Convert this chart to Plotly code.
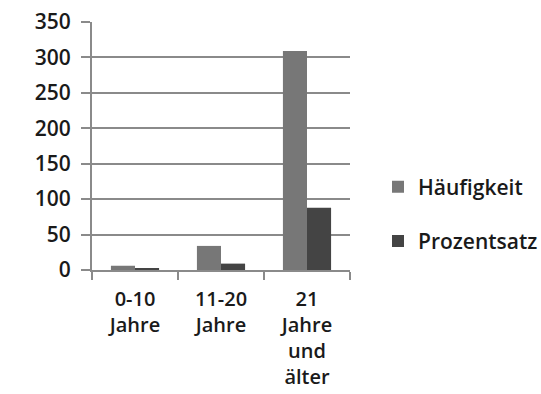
import plotly.graph_objects as go

# Altersgruppen und Werte
categories = ["0-10<br>Jahre", "11-20<br>Jahre", "21<br>Jahre<br>und<br>älter"]
haeufigkeit = [6, 34, 309]
prozentsatz = [2, 9, 88]
y_ticks = [0, 50, 100, 150, 200, 250, 300, 350]

font_family = "Open Sans"
grid_color = "#8a8a8a"

fig = go.Figure()
fig.add_trace(go.Bar(
    x=categories, y=haeufigkeit, name="Häufigkeit",
    marker=dict(color="#777777", line=dict(width=0)),
    legendgroup="a",
))
fig.add_trace(go.Bar(
    x=categories, y=prozentsatz, name="Prozentsatz",
    marker=dict(color="#444444", line=dict(width=0)),
    legendgroup="b",
))

fig.update_layout(
    width=541, height=394,
    margin=dict(l=92, r=191, t=22, b=124, autoexpand=False),
    paper_bgcolor="white", plot_bgcolor="white",
    barmode="group", bargap=0.44, bargroupgap=0,
    font=dict(family=font_family, size=20, color="#1a1a1a", weight=600),
    showlegend=True,
    legend=dict(
        x=(378 - 92) / (541 - 92 - 191), xanchor="left",
        y=(270 - 214) / 248, yanchor="middle",
        traceorder="grouped", tracegroupgap=24,
        font=dict(size=21, weight=600),
        itemwidth=30,
    ),
    xaxis=dict(
        showline=True, linecolor=grid_color, linewidth=2,
        ticks="outside", tickson="boundaries", ticklen=8,
        tickcolor=grid_color, tickwidth=2,
        showgrid=False, ticklabelstandoff=10, automargin=False,
    ),
    yaxis=dict(
        range=[0, 350], tickvals=y_ticks,
        showline=True, linecolor=grid_color, linewidth=2,
        showgrid=True, gridcolor=grid_color, gridwidth=2,
        ticks="outside", ticklen=9, tickcolor=grid_color, tickwidth=2,
        zeroline=False, ticklabelstandoff=6, automargin=False,
        tickfont=dict(size=21),
    ),
)

fig.write_html("out.html")
